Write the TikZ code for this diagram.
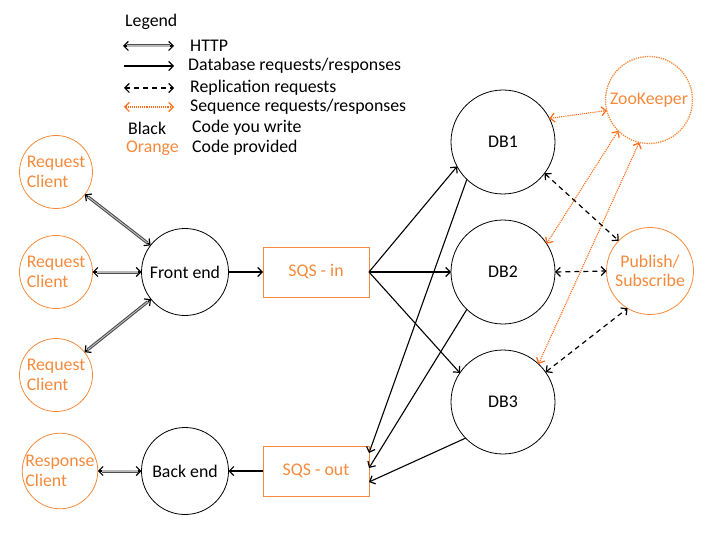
\documentclass[tikz,border=0pt]{standalone}
\usepackage{fontspec}
\setmainfont{Carlito}
\usetikzlibrary{arrows.meta,calc}
\definecolor{orgc}{HTML}{F58A3C}
\definecolor{seqc}{HTML}{FF6A13}
\begin{document}
\begin{tikzpicture}[x=1pt,y=-1pt,
  font=\fontsize{17.8}{19.5}\selectfont,
  >={Straight Barb[length=4.5pt,width=9pt,line width=1.2pt]},
  blkc/.style={circle,draw=black,line width=0.8pt,inner sep=0pt,outer sep=0pt,align=center},
  orgcirc/.style={circle,draw=orgc,text=orgc,line width=0.8pt,inner sep=0pt,outer sep=0pt,align=left},
  sqsbox/.style={rectangle,draw=orgc,text=orgc,line width=0.8pt,minimum width=106pt,minimum height=50pt,inner sep=0pt,outer sep=0pt},
  lbl/.style={anchor=west,inner sep=0pt},
  dbline/.style={->,line width=1.1pt},
  repline/.style={<->,line width=1.2pt,dash pattern=on 5pt off 4pt},
  seqline/.style={<->,draw=seqc,line width=1.1pt,densely dotted},
  httpline/.style={<->,draw=black,line width=1.3pt,
    preaction={draw=black!70,line width=3pt,-,shorten <=4pt,shorten >=4pt},
    postaction={draw=gray!55,line width=1.2pt,-,shorten <=4pt,shorten >=4pt}},
]
\useasboundingbox (0,0) rectangle (720,540);

% legend
\node[lbl] (lg) at (125,22) {Legend};
\coordinate (h1) at (123,46); \coordinate (h2) at (174,46);
\draw[httpline] (h1) -- (h2);
\node[lbl] (lh) at (190,46) {HTTP};
\coordinate (d1) at (124,66); \coordinate (d2) at (174,66);
\draw[dbline] (d1) -- (d2);
\node[lbl] (ld) at (188,66) {Database requests/responses};
\coordinate (r1) at (124,88); \coordinate (r2) at (174,88);
\draw[repline] (r1) -- (r2);
\node[lbl] (lr) at (190,88) {Replication requests};
\coordinate (s1) at (124,107); \coordinate (s2) at (174,107);
\draw[seqline] (s1) -- (s2);
\node[lbl] (ls) at (190,107) {Sequence requests/responses};
\node[lbl] (lb) at (128,128) {Black};
\node[lbl] (lbw) at (192,128) {Code you write};
\node[lbl,text=orgc] (lo) at (126,148) {Orange};
\node[lbl] (lop) at (192,148) {Code provided};

% clients
\node[orgcirc,minimum size=73pt] (rc1) at (56,172) {Request\\Client};
\node[orgcirc,minimum size=73pt] (rc2) at (56,272) {Request\\Client};
\node[orgcirc,minimum size=73pt] (rc3) at (56,375) {Request\\Client};
\node[orgcirc,minimum size=73pt] (rsc) at (60,471) {Response\\Client};

% front/back end
\node[blkc,minimum size=87pt] (fe) at (185,272) {Front end};
\node[blkc,minimum size=87pt] (be) at (185,471) {Back end};

% SQS
\node[sqsbox] (sqsin) at (316,272) {SQS - in};
\node[sqsbox] (sqsout) at (316,471) {SQS - out};

% DBs
\node[blkc,minimum size=104pt] (db1) at (503,142) {DB1};
\node[blkc,minimum size=104pt] (db2) at (503,272) {DB2};
\node[blkc,minimum size=104pt] (db3) at (503,402) {DB3};

% ZooKeeper and Pub/Sub
\node[circle,draw=orgc,text=orgc,line width=1.3pt,densely dotted,minimum size=87pt,inner sep=0pt,outer sep=0pt] (zk) at (649,100) {ZooKeeper};
\node[orgcirc,minimum size=87pt,align=center] (ps) at (650,271) {Publish/\\Subscribe};

% HTTP
\draw[httpline] (rc1) -- (fe);
\draw[httpline] (rc2) -- (fe);
\draw[httpline] (rc3) -- (fe);
\draw[httpline] (rsc) -- (be);

% database requests
\draw[dbline] (fe) -- (sqsin);
\draw[dbline] (sqsout) -- (be);
\draw[dbline] (sqsin.east) -- (db1.208);
\draw[dbline] (sqsin.east) -- (db2.west);
\draw[dbline] (sqsin.east) -- (db3.146);
\draw[dbline] (db1.226) -- ($(sqsout.east)+(0pt,18pt)$);
\draw[dbline] (db2.226) -- ($(sqsout.east)+(0pt,3pt)$);
\draw[dbline] (db3.224) -- ($(sqsout.east)+(0pt,-11pt)$);

% sequence
\draw[seqline] (db1.27) -- (zk.194);
\draw[seqline] (db2.33) -- (zk.225);
\draw[seqline] (db3.47) -- (zk.257);

% replication
\draw[repline] (db1.-37) -- (ps.136);
\draw[repline] (db2.east) -- (ps.west);
\draw[repline] (db3.35) -- (ps.239);
\end{tikzpicture}
\end{document}
